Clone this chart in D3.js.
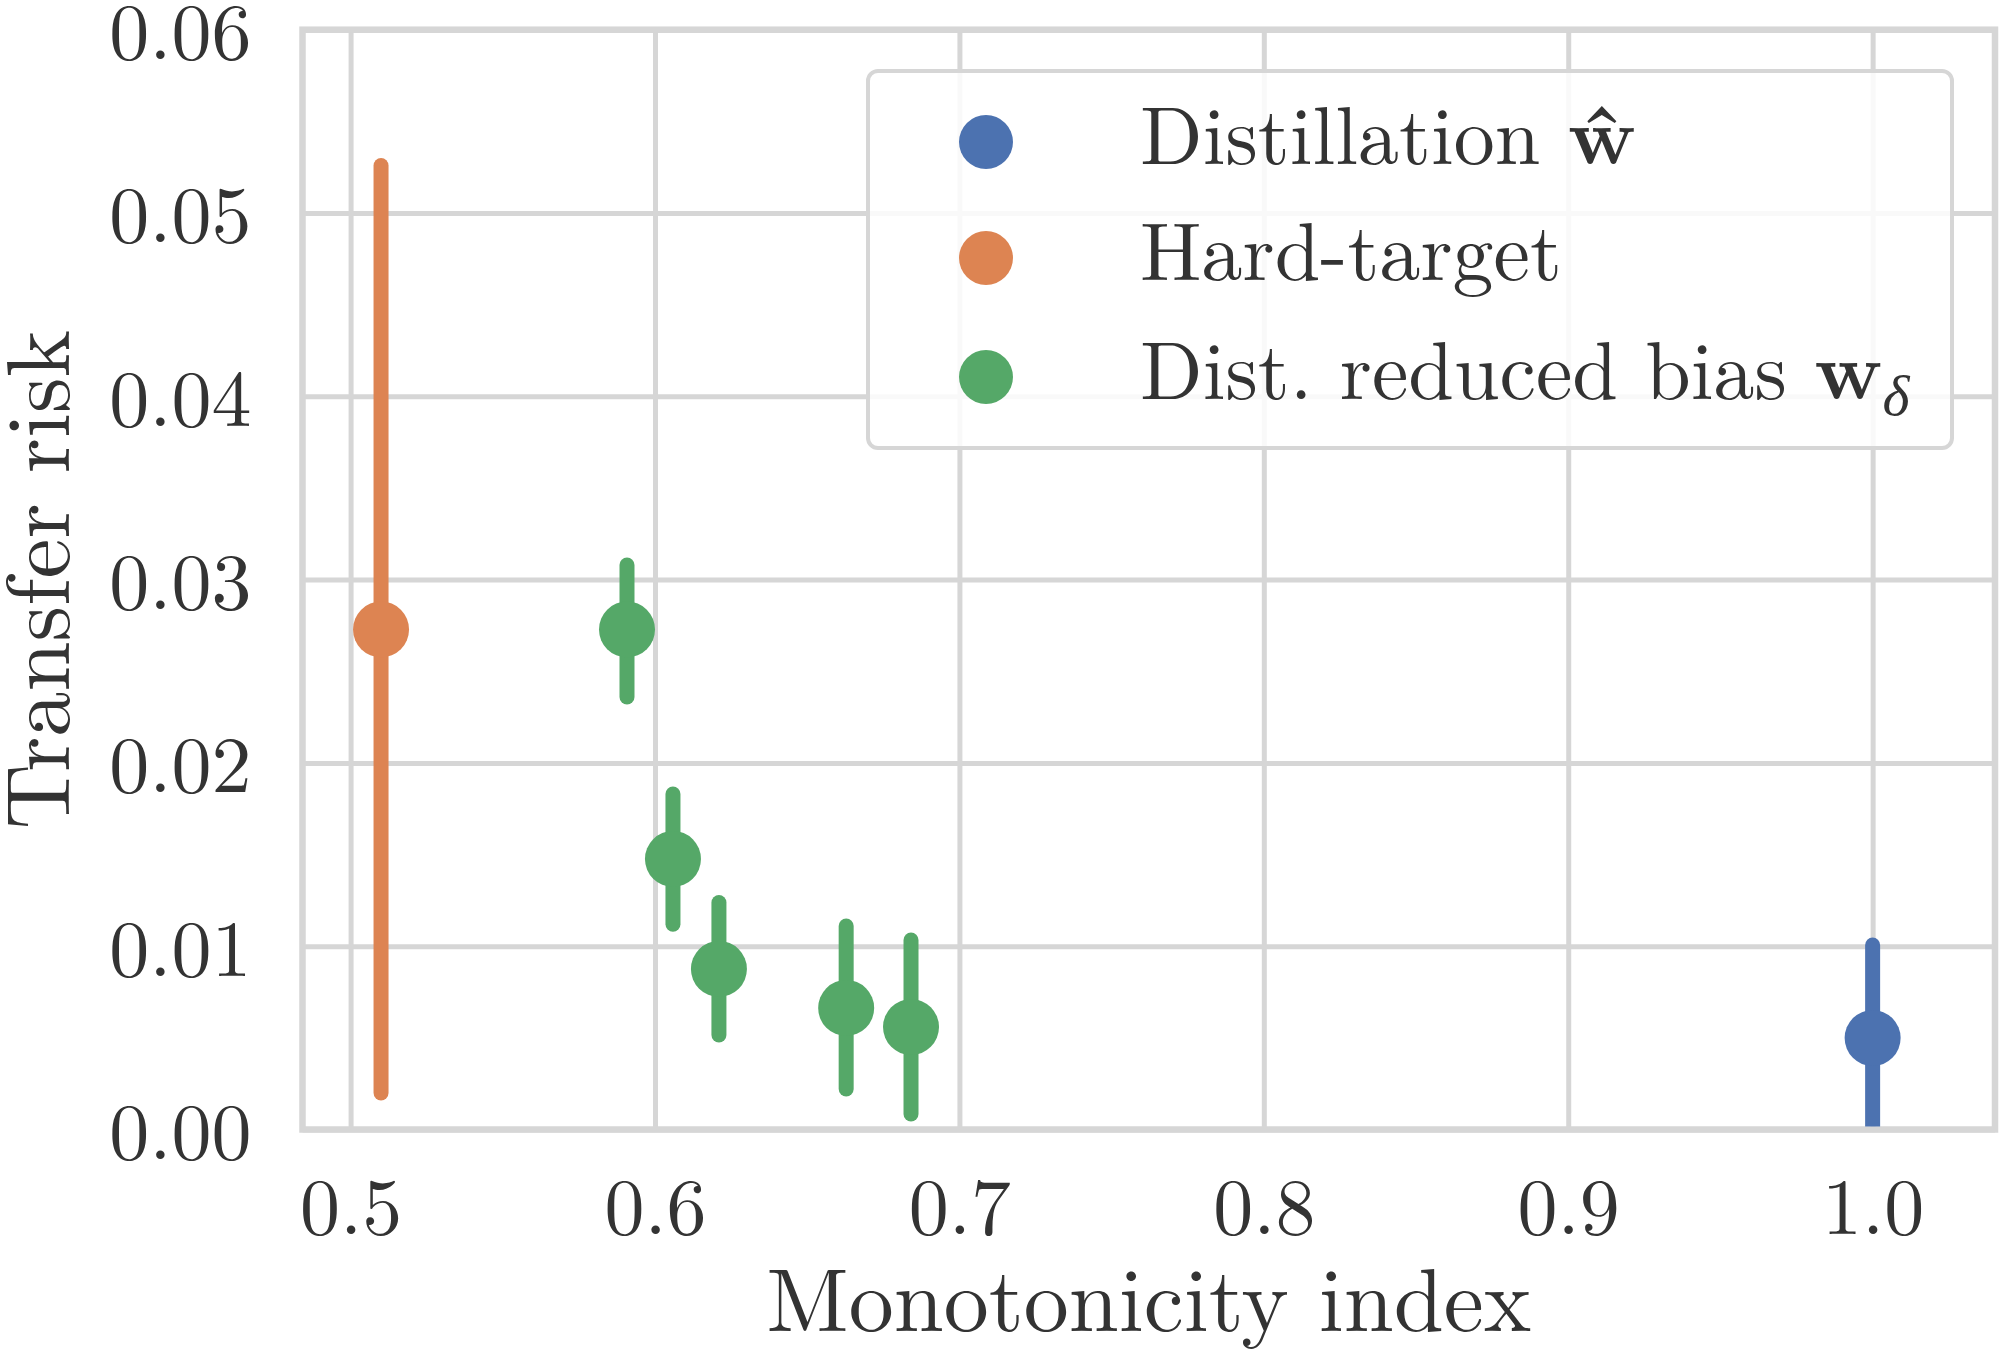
<!DOCTYPE html>
<html>
<head>
<meta charset="UTF-8">
<title>Transfer risk vs monotonicity index</title>
<script src="https://d3js.org/d3.v7.min.js"></script>
<style>
body { margin: 0; background: #fff; }
svg text { font-family: "Latin Modern Roman", "CMU Serif", "Liberation Serif", serif; fill: #333; }
.tick line { stroke: #d6d6d6; stroke-width: 5; }
</style>
</head>
<body>
<svg id="chart" width="2000" height="1354"></svg>
<script>
// data
const seriesNames = ["Distillation", "Hard-target", "Dist. reduced bias"];
const seriesColors = ["#4C72B0", "#DD8452", "#55A868"];
const monoIndex = [1.0, 0.5100, 0.5908, 0.6059, 0.6210, 0.6628, 0.6841];
const riskMean  = [0.00499, 0.02728, 0.02728, 0.01476, 0.00876, 0.00663, 0.00559];
const riskLow   = [-0.00008, 0.00199, 0.0236, 0.0112, 0.00516, 0.00221, 0.00085];
const riskHigh  = [0.01006, 0.05259, 0.0308, 0.0183, 0.01238, 0.01110, 0.01034];
const pointSeries = [0, 1, 2, 2, 2, 2, 2];
const xTicks = [0.5, 0.6, 0.7, 0.8, 0.9, 1.0];
const yTicks = [0, 0.01, 0.02, 0.03, 0.04, 0.05, 0.06];

const plotL = 302.5, plotR = 1995, plotT = 29.7, plotB = 1129.5;

let svg = d3.select("#chart");

let x = d3.scaleLinear().domain([0.4842, 1.0402]).range([plotL, plotR]);
let y = d3.scaleLinear().domain([0, 0.06]).range([plotB, plotT]);

// grid + tick labels
let xAxis = svg.append("g")
    .attr("transform", "translate(0," + plotB + ")")
    .call(d3.axisBottom(x)
        .tickValues(xTicks)
        .tickFormat(d3.format(".1f"))
        .tickSize(-(plotB - plotT))
        .tickPadding(48));
xAxis.select(".domain").remove();
xAxis.selectAll("text").attr("font-size", 80).attr("fill", "#333");

let yAxis = svg.append("g")
    .attr("transform", "translate(" + plotL + ",0)")
    .call(d3.axisLeft(y)
        .tickValues(yTicks)
        .tickFormat(d3.format(".2f"))
        .tickSize(-(plotR - plotL))
        .tickPadding(51));
yAxis.select(".domain").remove();
yAxis.selectAll("text").attr("font-size", 80).attr("fill", "#333").attr("dy", "0.36em");

// spines
svg.append("rect")
    .attr("x", plotL).attr("y", plotT)
    .attr("width", plotR - plotL).attr("height", plotB - plotT)
    .attr("fill", "none")
    .attr("stroke", "#d6d6d6")
    .attr("stroke-width", 6.5);

svg.append("clipPath").attr("id", "plotClip")
  .append("rect")
    .attr("x", plotL).attr("y", plotT)
    .attr("width", plotR - plotL).attr("height", plotB - plotT - 3);

let points = monoIndex.map((m, i) => ({
    x: m, mean: riskMean[i], lo: riskLow[i], hi: riskHigh[i], s: pointSeries[i]
}));

let marks = svg.append("g").attr("clip-path", "url(#plotClip)");

marks.selectAll("line.err")
    .data(points)
    .enter().append("line")
    .attr("class", "err")
    .attr("x1", d => x(d.x)).attr("x2", d => x(d.x))
    .attr("y1", d => y(d.lo)).attr("y2", d => y(d.hi))
    .attr("stroke", d => seriesColors[d.s])
    .attr("stroke-width", 15)
    .attr("stroke-linecap", "round");

marks.selectAll("circle.pt")
    .data(points)
    .enter().append("circle")
    .attr("class", "pt")
    .attr("cx", d => x(d.x)).attr("cy", d => y(d.mean))
    .attr("r", 28)
    .attr("fill", d => seriesColors[d.s]);

// axis labels
svg.append("text")
    .attr("x", (plotL + plotR) / 2)
    .attr("y", 1331)
    .attr("text-anchor", "middle")
    .attr("font-size", 90)
    .text("Monotonicity index");

svg.append("text")
    .attr("transform", "translate(69," + ((plotT + plotB) / 2) + ") rotate(-90)")
    .attr("text-anchor", "middle")
    .attr("font-size", 90)
    .text("Transfer risk");

// legend
let legend = svg.append("g");
legend.append("rect")
    .attr("x", 868).attr("y", 71)
    .attr("width", 1952 - 868).attr("height", 448 - 71)
    .attr("rx", 10).attr("ry", 10)
    .attr("fill", "#fff").attr("fill-opacity", 0.85)
    .attr("stroke", "#d6d6d6").attr("stroke-width", 4);

const legendRowY = [142, 258, 377];

legend.selectAll("circle")
    .data(seriesNames)
    .enter().append("circle")
    .attr("cx", 986)
    .attr("cy", (d, i) => legendRowY[i])
    .attr("r", 27)
    .attr("fill", (d, i) => seriesColors[i]);

let labels = legend.selectAll("text.leg")
    .data(seriesNames)
    .enter().append("text")
    .attr("class", "leg")
    .attr("x", 1140)
    .attr("y", (d, i) => legendRowY[i] + 22)
    .attr("font-size", 82);

labels.append("tspan").text(d => d + " ");
labels.filter((d, i) => i === 0).append("tspan")
    .attr("font-weight", "bold").text("\u0175");
labels.filter((d, i) => i === 2).append("tspan")
    .attr("font-weight", "bold").text("w");
labels.filter((d, i) => i === 2).append("tspan")
    .attr("font-style", "italic").attr("font-size", 58)
    .attr("dy", 16).text("\u03b4");
</script>
</body>
</html>
